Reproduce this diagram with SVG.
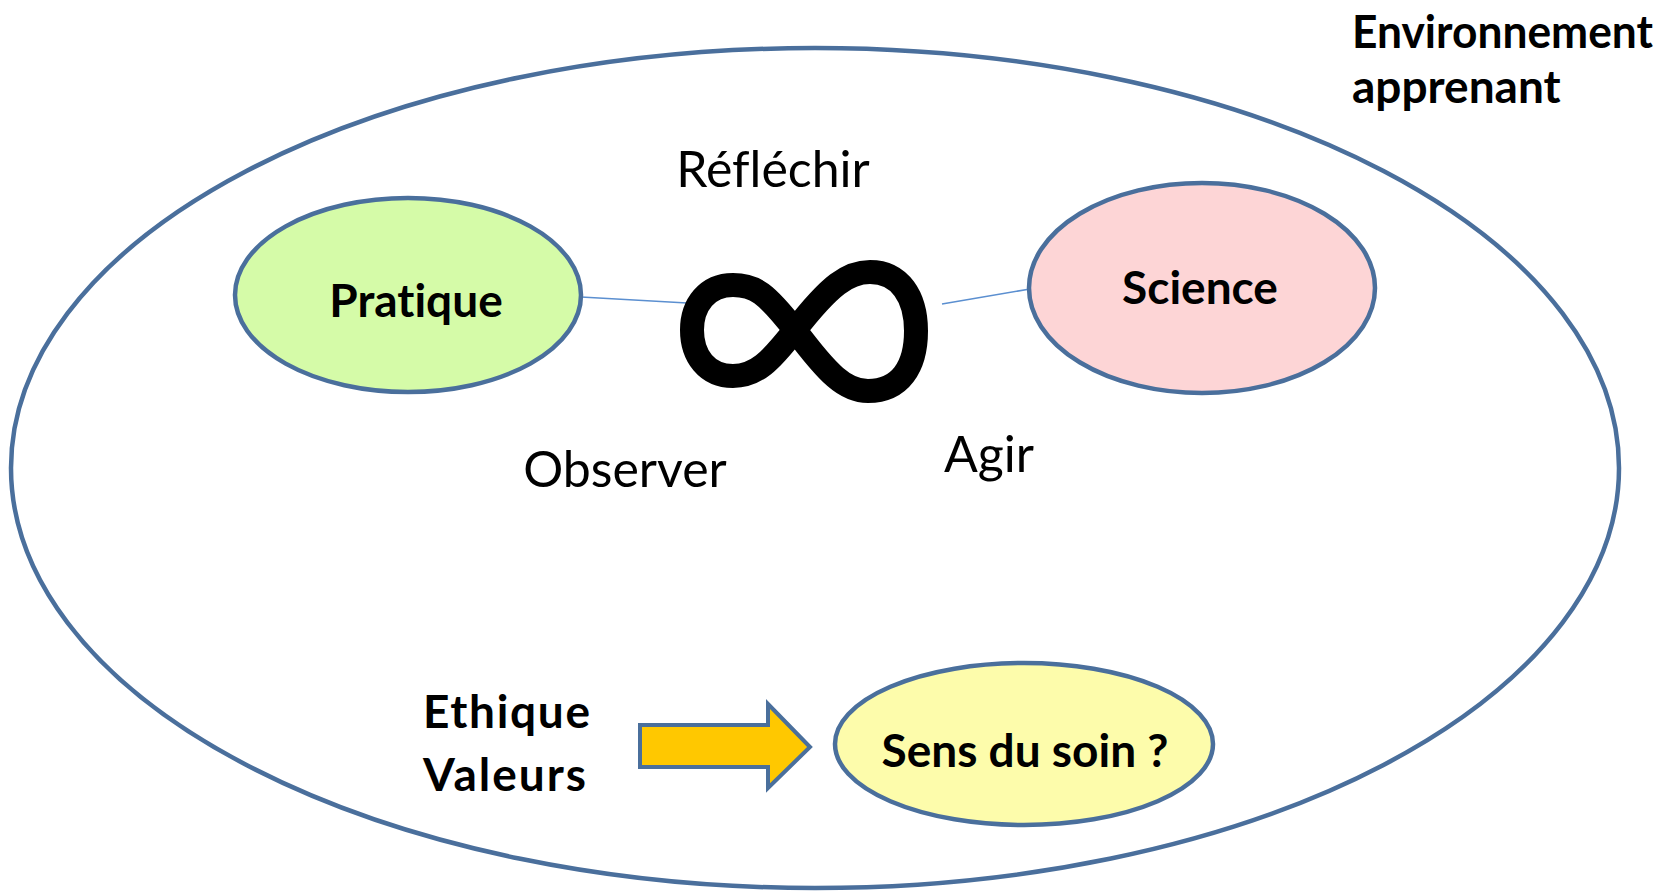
<svg xmlns="http://www.w3.org/2000/svg" width="1671" height="894" viewBox="0 0 1671 894">
<style>
.bg{fill:#ffffff}
.outline{fill:none;stroke:#4a6f9c;stroke-width:4.5}
.node{stroke:#4a6f9c;stroke-width:4.5}
.lbl{font-family:Lato,"Liberation Sans",sans-serif;fill:#000;font-variant-ligatures:none}
.b{font-weight:bold;font-size:46px}
.r{font-size:50px}
.conn{stroke:#5b8fd0;stroke-width:1.6;fill:none}
.inf{fill:none;stroke:#000;stroke-width:24;stroke-linejoin:round}
</style>
<rect class="bg" x="0" y="0" width="1671" height="894"/>
<g id="environnement">
<ellipse class="outline" cx="815" cy="468" rx="804" ry="420"/>
<text class="lbl b" x="1352" y="48" textLength="301" lengthAdjust="spacingAndGlyphs">Environnement</text>
<text class="lbl b" x="1352" y="103">apprenant</text>
</g>
<g id="connectors">
<line class="conn" x1="581" y1="297" x2="687" y2="303"/>
<line class="conn" x1="942" y1="304" x2="1030" y2="289"/>
</g>
<g id="pratique">
<ellipse class="node" cx="408" cy="295" rx="173" ry="97" fill="#d5fba8"/>
<text class="lbl b" x="416" y="317" text-anchor="middle">Pratique</text>
</g>
<g id="science">
<ellipse class="node" cx="1202" cy="288" rx="173" ry="105" fill="#fdd5d6"/>
<text class="lbl b" x="1200" y="304" text-anchor="middle">Science</text>
</g>
<g id="infini">
<path class="inf" d="M795,330 C830,285 848,272 870,272 C900,272 916,297 916,331 C916,367 900,391 868,391 C845,391 828,374 795,330 C766,293 755,285 733,285 C707,285 692,305 692,330 C692,356 707,376 733,376 C756,376 770,362 795,330 Z"/>
</g>
<g id="labels">
<text class="lbl r" x="773" y="187" text-anchor="middle">Réfléchir</text>
<text class="lbl r" x="625" y="487" text-anchor="middle">Observer</text>
<text class="lbl r" x="989" y="472" text-anchor="middle">Agir</text>
</g>
<g id="ethique">
<text class="lbl b" x="423" y="728" textLength="167" lengthAdjust="spacing">Ethique</text>
<text class="lbl b" x="423" y="791" textLength="163" lengthAdjust="spacing">Valeurs</text>
</g>
<g id="fleche">
<polygon points="640,725 768,725 768,704 810,747 768,788 768,767 640,767" fill="#ffc800" stroke="#4a6f9c" stroke-width="4"/>
</g>
<g id="sens">
<ellipse class="node" cx="1024" cy="744" rx="189" ry="81" fill="#fdfcab"/>
<text class="lbl b" x="1025" y="767" text-anchor="middle">Sens du soin ?</text>
</g>
</svg>
